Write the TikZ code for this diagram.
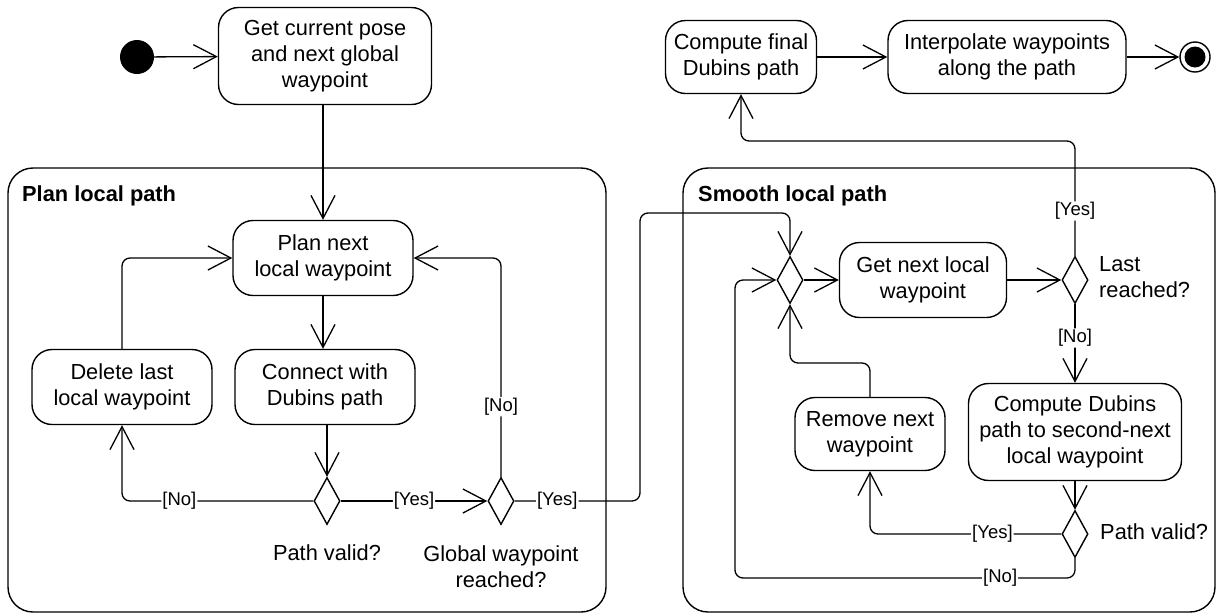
\documentclass[tikz,border=0pt]{standalone}
\usepackage{fontspec}
\setmainfont{Liberation Sans}
\usetikzlibrary{arrows.meta,shapes.geometric}
\newcommand\mainsz{\fontsize{21.8}{26}\selectfont}
\newcommand\lblsz{\fontsize{18.5}{20}\selectfont}
\tikzset{
  act/.style={draw, line width=1.4pt, rounded corners=20pt, align=center, font=\mainsz, inner sep=0pt},
  cont/.style={draw, line width=1.4pt, rounded corners=25pt, inner sep=0pt},
  dec/.style={diamond, draw, line width=1.4pt, minimum width=26pt, minimum height=47pt, inner sep=0pt},
  arr/.style={line width=1.3pt, rounded corners=8pt, -{Straight Barb[length=23pt,width=24pt,line width=1.3pt]}},
  lbl/.style={fill=white, font=\lblsz, inner sep=1pt},
  txt/.style={font=\mainsz, align=center, inner sep=0pt},
  ttl/.style={font=\mainsz\bfseries, inner sep=0pt, anchor=base west}
}
\begin{document}
\begin{tikzpicture}[x=1pt,y=-1pt]
\useasboundingbox (0,0) rectangle (1223,614);
% containers
\node[cont, minimum width=598pt, minimum height=444pt] (plan) at (307,390) {};
\node[ttl] (plantitle) at (22,201) {Plan local path};
\node[cont, minimum width=532pt, minimum height=444pt] (smooth) at (949,390) {};
\node[ttl] (smoothtitle) at (698,201) {Smooth local path};
% nodes
\node[circle, fill=black, minimum size=34pt, inner sep=0pt] (start) at (137,57) {};
\node[act, minimum width=213pt, minimum height=97pt] (get) at (325,56) {Get current pose\\and next global\\waypoint};
\node[act, minimum width=180pt, minimum height=75pt] (plannext) at (323,258) {Plan next\\local waypoint};
\node[act, minimum width=180pt, minimum height=75pt] (del) at (122,387) {Delete last\\local waypoint};
\node[act, minimum width=180pt, minimum height=75pt] (conn) at (325,387) {Connect with\\Dubins path};
\node[dec] (d1) at (327,501) {};
\node[dec] (d2) at (501,501) {};
\node[txt] (d1lbl) at (327,553) {Path valid?};
\node[txt] (d2lbl) at (501,567) {Global waypoint\\reached?};
\node[dec] (merge) at (790,280) {};
\node[act, minimum width=167pt, minimum height=75pt] (getnext) at (923,280) {Get next local\\waypoint};
\node[dec] (last) at (1075,280) {};
\node[txt, anchor=west, align=left] (lastlbl) at (1099,277) {Last\\reached?};
\node[act, minimum width=151pt, minimum height=73pt] (final) at (741,57) {Compute final\\Dubins path};
\node[act, minimum width=238pt, minimum height=73pt] (interp) at (1007,57) {Interpolate waypoints\\along the path};
\node[circle, draw, line width=1.4pt, minimum size=30pt, inner sep=0pt] (endo) at (1195,57) {};
\node[circle, fill=black, minimum size=21pt, inner sep=0pt] (endi) at (1195,57) {};
\node[act, minimum width=213pt, minimum height=97pt] (compd) at (1075,432) {Compute Dubins\\path to second-next\\local waypoint};
\node[dec] (valid2) at (1075,534) {};
\node[txt, anchor=west] (valid2lbl) at (1100,532) {Path valid?};
\node[act, minimum width=150pt, minimum height=73pt] (remove) at (870,434) {Remove next\\waypoint};
% junctions
\coordinate (j1) at (640,213);
\coordinate (j2) at (1075,141);
\coordinate (j3) at (790,363);
\coordinate (j4) at (735,578);
% connectors
\draw[arr] (start) -- (get);
\draw[arr] (get.south -| plannext) -- (plannext);
\draw[arr] (plannext) -- (conn.north -| plannext);
\draw[arr] (conn.south -| d1) -- (d1);
\draw[arr] (d1.west) -| node[lbl, pos=0.35] {[No]} (del.south);
\draw[arr] (del.north) |- (plannext.west);
\draw[arr] (d1.east) -- node[lbl, pos=0.5] {[Yes]} (d2.west);
\draw[arr] (d2.north) |- node[lbl, pos=0.16] {[No]} (plannext.east);
\draw[arr] (d2.east) -| node[lbl, pos=0.17] {[Yes]} (j1) -| (merge.north);
\draw[arr] (merge) -- (getnext);
\draw[arr] (getnext) -- (last);
\draw[arr] (last.north) -- node[lbl, pos=0.39] {[Yes]} (j2) -| (final.south);
\draw[arr] (final) -- (interp);
\draw[arr] (interp) -- (endo);
\draw[arr] (last.south) -- node[lbl, pos=0.43] {[No]} (compd.north);
\draw[arr] (compd) -- (valid2);
\draw[arr] (valid2.west) -| node[lbl, pos=0.18] {[Yes]} (remove.south);
\draw[arr] (remove.north) |- (j3) -- (merge.south);
\draw[arr] (valid2.south) |- node[lbl, pos=0.61] {[No]} (j4) |- (merge.west);
\end{tikzpicture}
\end{document}
